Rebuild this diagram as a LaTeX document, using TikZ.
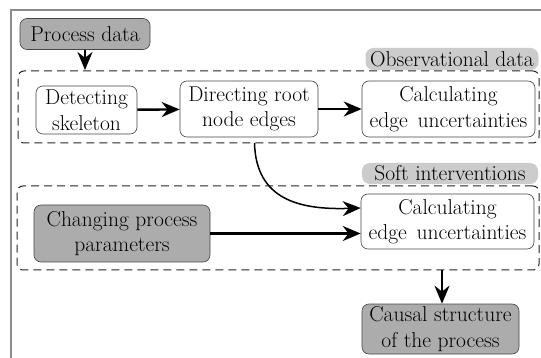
\documentclass[tikz,border=0pt]{standalone}
\usetikzlibrary{arrows.meta}
\definecolor{nodegray}{RGB}{172,172,172}
\definecolor{labelgray}{RGB}{204,204,204}
\definecolor{framegray}{RGB}{140,140,140}
\definecolor{edgegray}{RGB}{70,70,70}
\begin{document}
\begin{tikzpicture}[x=1pt,y=-1pt,
  every node/.style={font=\rmfamily\fontsize{21.5}{25.5}\selectfont, inner sep=0pt, align=center},
  box/.style={draw=edgegray, line width=0.6pt, rounded corners=7pt, fill=white},
  darkbox/.style={box, fill=nodegray},
  grouplabel/.style={fill=labelgray, rounded corners=8pt},
  group/.style={draw=black!85, dash pattern=on 8pt off 5pt, line width=1pt, rounded corners=6pt},
  flow/.style={line width=2.4pt, -{Stealth[length=18pt,width=15pt]}},
  curvedflow/.style={line width=1.5pt, -{Stealth[length=18pt,width=15pt]}}
]
\useasboundingbox (0,0) rectangle (541,358);
\fill[white] (0,0) rectangle (541,358);
\draw[framegray, line width=2pt] (10.5,360) -- (10.5,10.5) -- (545,10.5);

% group boxes
\node[group, minimum width=521pt, minimum height=72pt] (g1) at (278.5,107) {};
\node[group, minimum width=522pt, minimum height=84pt] (g2) at (278,228) {};
\node[grouplabel, minimum width=173pt, minimum height=22pt] (l1) at (452,59) {Observational data};
\node[grouplabel, minimum width=176pt, minimum height=21pt] (l2) at (450,173.5) {Soft interventions};

% nodes
\node[darkbox, minimum width=130pt, minimum height=31pt] (pd) at (85,34) {Process data};
\node[box, minimum width=101pt, minimum height=48pt] (ds) at (86.5,110) {Detecting\\skeleton};
\node[box, minimum width=138pt, minimum height=56pt] (dr) at (249,109) {Directing root\\node edges};
\node[box, minimum width=173pt, minimum height=56pt] (c1) at (448.5,109) {Calculating\\edge\hspace{0.45em}uncertainties};
\node[darkbox, minimum width=176pt, minimum height=57pt] (cp) at (122,233.5) {Changing process\\parameters};
\node[box, minimum width=173pt, minimum height=55pt] (c2) at (447.5,221.5) {Calculating\\edge\hspace{0.45em}uncertainties};
\node[darkbox, minimum width=157pt, minimum height=50pt] (cs) at (440.5,329) {Causal structure\\of the process};

\coordinate (gin) at (85,70);
\coordinate (gout) at (442,270);
\coordinate (cstart) at (254.5,143);
\coordinate (cend) at (c2.west |- 0,208);

% connectors
\draw[flow] (pd.south -| gin) -- (gin);
\draw[flow] (ds) -- (dr);
\draw[flow] (dr) -- (c1);
\draw[flow] (cp.east) -- (cp.east -| c2.west);
\draw[curvedflow] (cstart) .. controls (256,200) and (300,210) .. (cend);
\draw[flow] (gout) -- (gout |- cs.north);
\end{tikzpicture}
\end{document}
